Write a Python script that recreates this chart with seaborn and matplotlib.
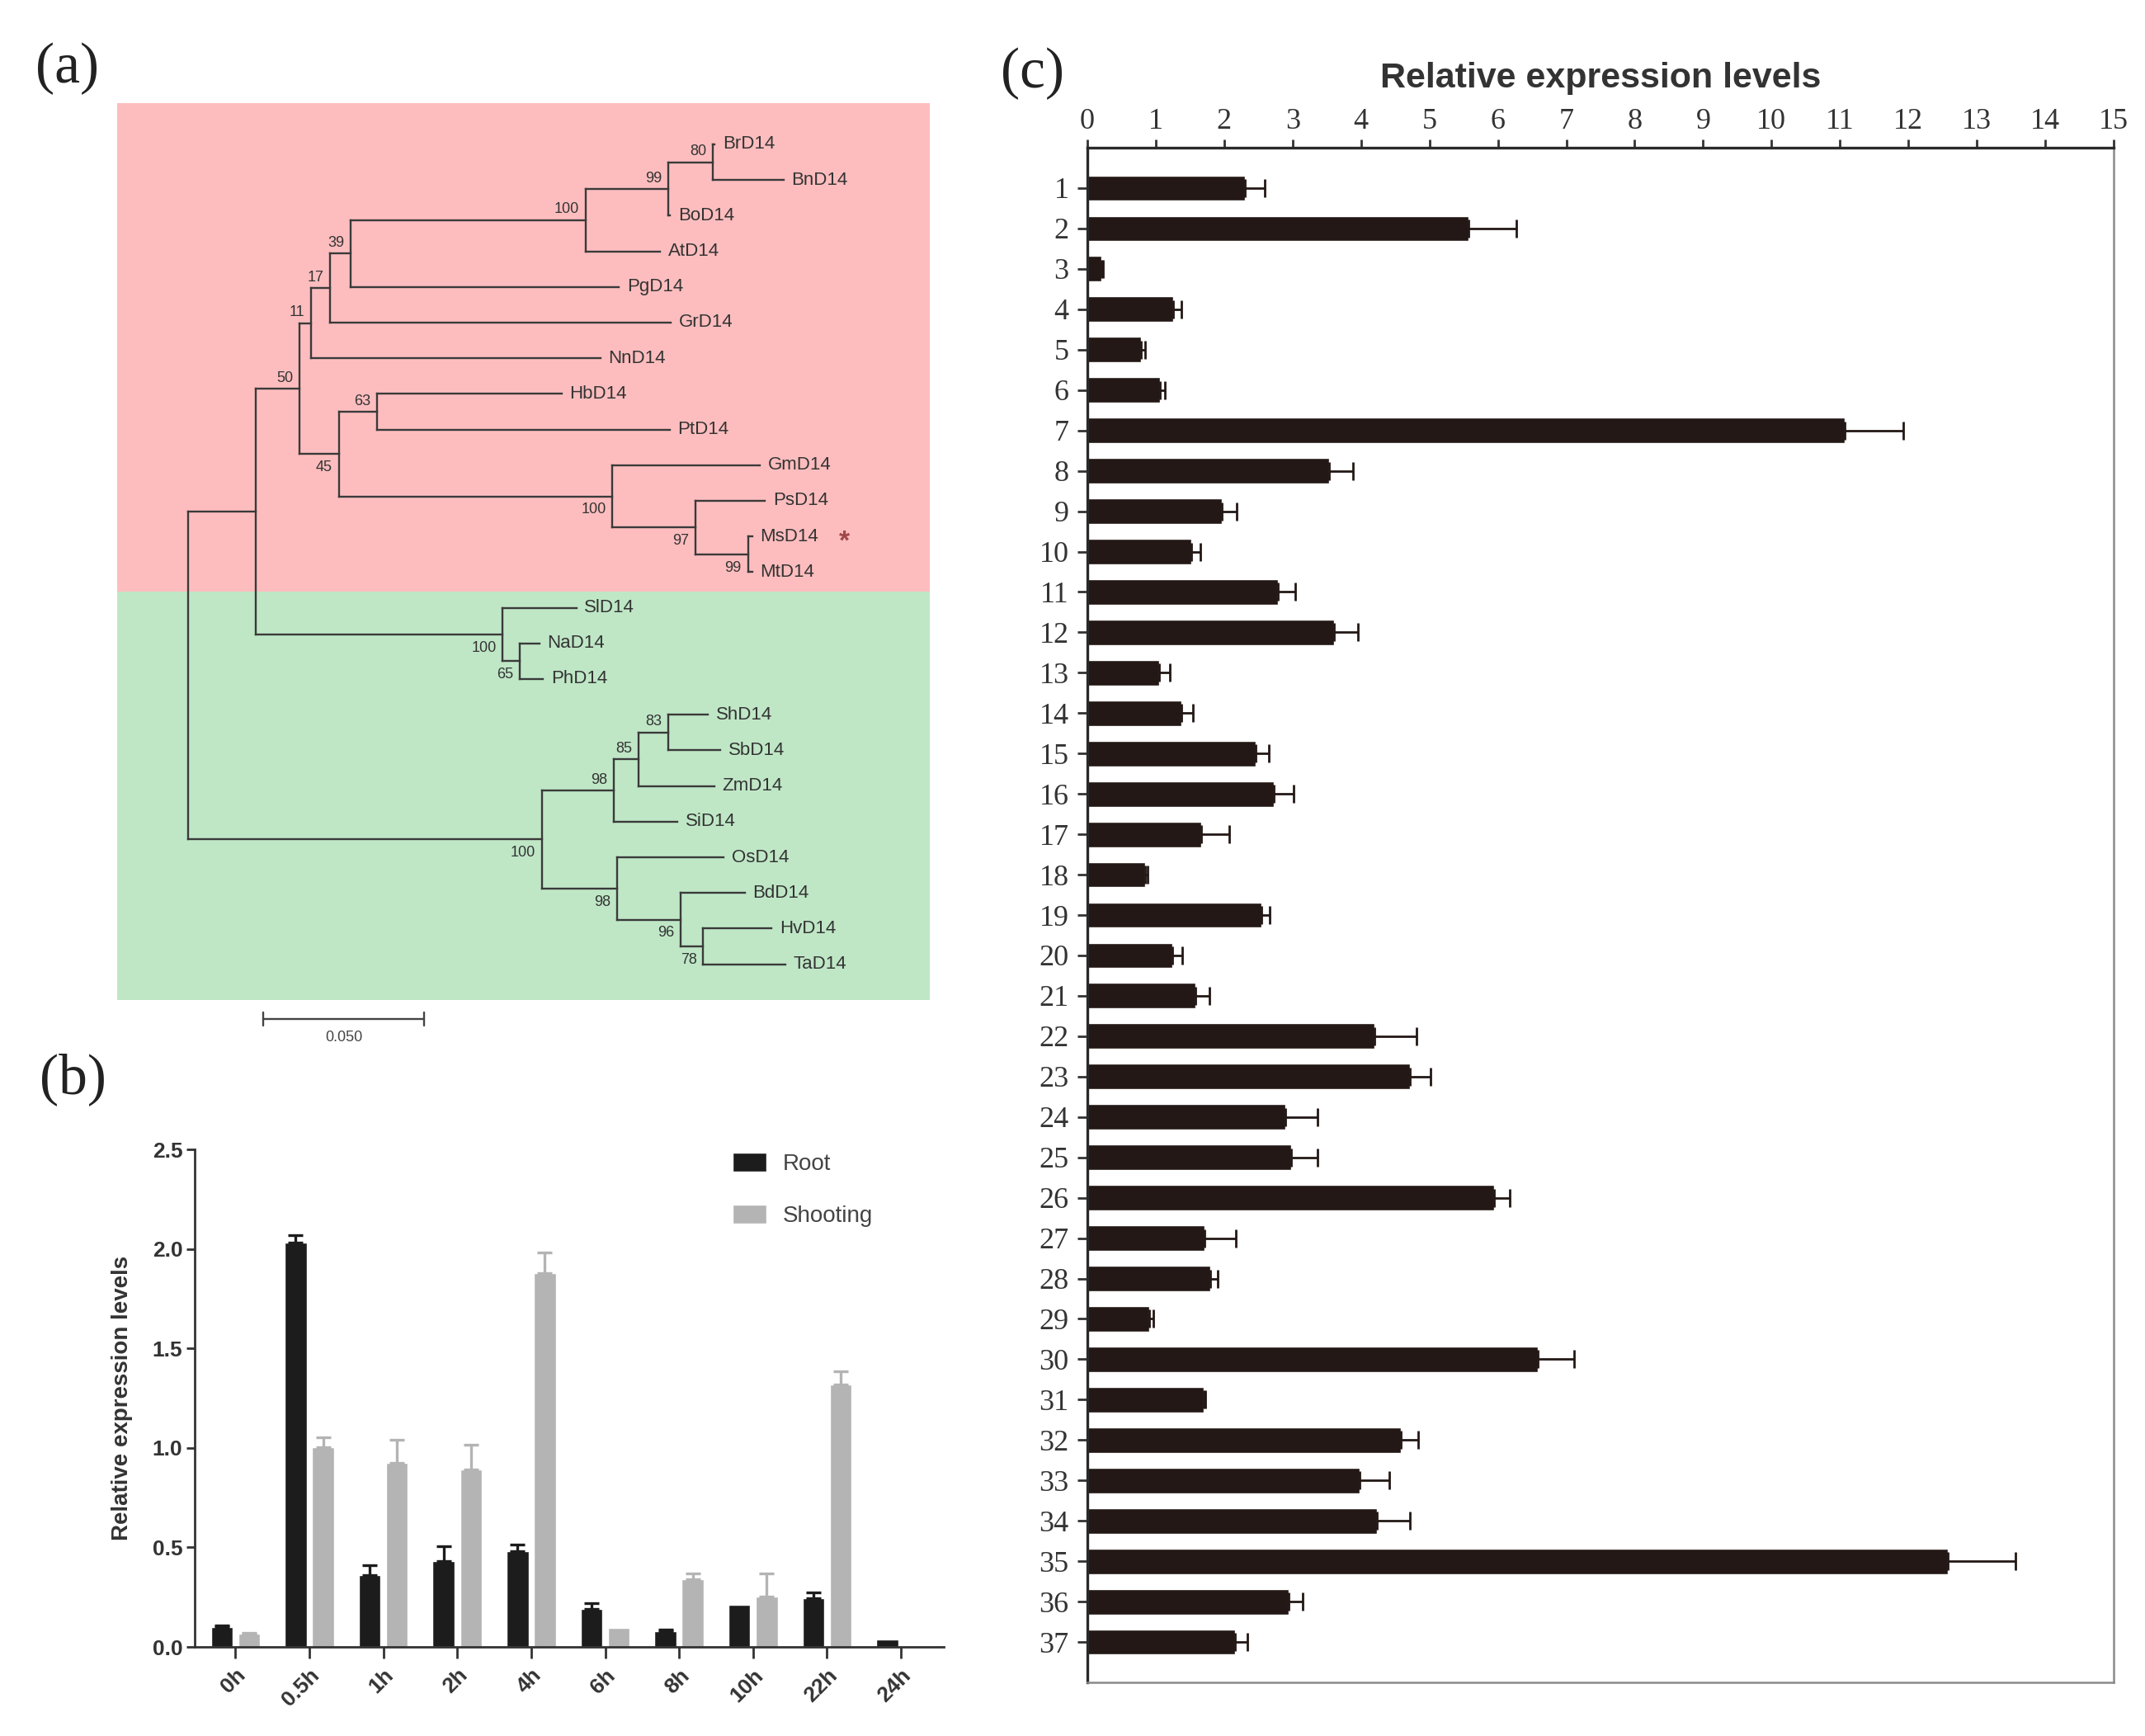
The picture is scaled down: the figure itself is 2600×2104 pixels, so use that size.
import numpy as np
import pandas as pd
import seaborn as sns
from matplotlib import pyplot as plt

sns.set_theme(style='ticks')
plt.rcParams['font.family'] = ['Liberation Sans', 'DejaVu Sans']

# ---------------- (a) 系统发育树数据 ----------------
leaf_names = ['BrD14', 'BnD14', 'BoD14', 'AtD14', 'PgD14', 'GrD14', 'NnD14', 'HbD14',
              'PtD14', 'GmD14', 'PsD14', 'MsD14', 'MtD14', 'SlD14', 'NaD14', 'PhD14',
              'ShD14', 'SbD14', 'ZmD14', 'SiD14', 'OsD14', 'BdD14', 'HvD14', 'TaD14']
leaf_depth = [0.1636, 0.185, 0.1497, 0.1467, 0.1338, 0.150, 0.128, 0.116,
              0.1496, 0.1777, 0.1792, 0.1752, 0.1752, 0.1206, 0.1091, 0.1102,
              0.1614, 0.1654, 0.1634, 0.152, 0.1664, 0.1729, 0.1812, 0.1855]

node_names = ['n80', 'n99a', 'n100a', 'n39', 'n17', 'n11', 'n63', 'n99b', 'n97', 'n100b',
              'n45', 'n50', 'n65', 'n100s', 'nEud', 'n83', 'n85', 'n98a', 'n78', 'n96',
              'n98b', 'n100m', 'root']
node_kids = [('BrD14', 'BnD14'), ('n80', 'BoD14'), ('n99a', 'AtD14'), ('n100a', 'PgD14'),
             ('n39', 'GrD14'), ('n17', 'NnD14'), ('HbD14', 'PtD14'), ('MsD14', 'MtD14'),
             ('PsD14', 'n99b'), ('GmD14', 'n97'), ('n63', 'n100b'), ('n11', 'n45'),
             ('NaD14', 'PhD14'), ('SlD14', 'n65'), ('n50', 'n100s'), ('ShD14', 'SbD14'),
             ('n83', 'ZmD14'), ('n85', 'SiD14'), ('HvD14', 'TaD14'), ('BdD14', 'n78'),
             ('OsD14', 'n96'), ('n98a', 'n98b'), ('nEud', 'n100m')]
node_depth = [0.163, 0.1492, 0.1234, 0.0504, 0.0441, 0.0382, 0.0585, 0.1739, 0.1575, 0.1318,
              0.0467, 0.0346, 0.1029, 0.0977, 0.021, 0.1492, 0.140, 0.1322, 0.160, 0.153,
              0.1332, 0.1098, 0.0]
node_support = [80, 99, 100, 39, 17, 11, 63, 99, 97, 100,
                45, 50, 65, 100, None, 83, 85, 98, 78, 96,
                98, 100, None]
node_side = ['above', 'above', 'above', 'above', 'above', 'above', 'above', 'below', 'below', 'below',
             'below', 'above', 'below', 'below', None, 'above', 'above', 'above', 'below', 'below',
             'below', 'below', None]
scale_bar_len = 0.05

# ---------------- (b) 不同时间点表达量 ----------------
times = ['0h', '0.5h', '1h', '2h', '4h', '6h', '8h', '10h', '22h', '24h']
root_mean = [0.10, 2.03, 0.36, 0.43, 0.48, 0.19, 0.08, 0.21, 0.243, 0.039]
root_sd = [0.008, 0.04, 0.05, 0.075, 0.036, 0.03, 0.009, 0.0, 0.03, 0.0]
shoot_mean = [0.068, 1.005, 0.925, 0.89, 1.88, 0.095, 0.34, 0.255, 1.32, 0.005]
shoot_sd = [0.004, 0.05, 0.115, 0.126, 0.10, 0.0, 0.03, 0.113, 0.066, 0.0]

# ---------------- (c) 37个样本表达量 ----------------
samples = [str(i) for i in range(1, 38)]
sample_mean = [2.30, 5.57, 0.20, 1.25, 0.79, 1.06, 11.07, 3.53, 1.96, 1.52,
               2.78, 3.60, 1.05, 1.38, 2.46, 2.73, 1.66, 0.84, 2.54, 1.24,
               1.58, 4.20, 4.71, 2.89, 2.98, 5.95, 1.71, 1.80, 0.91, 6.58,
               1.70, 4.58, 3.98, 4.23, 12.58, 2.94, 2.16]
sample_sd = [0.29, 0.70, 0.03, 0.12, 0.05, 0.07, 0.85, 0.35, 0.22, 0.13,
             0.26, 0.35, 0.16, 0.17, 0.19, 0.28, 0.42, 0.04, 0.12, 0.15,
             0.21, 0.61, 0.31, 0.47, 0.39, 0.22, 0.46, 0.10, 0.06, 0.53,
             0.02, 0.25, 0.43, 0.48, 0.99, 0.21, 0.18]

fig = plt.figure(figsize=(26, 21.04), dpi=100)
serif = ['Liberation Serif', 'DejaVu Serif']
narrow = ['Liberation Sans Narrow', 'Liberation Sans', 'DejaVu Sans']

# ======== (a) ========
axa = fig.add_axes([0.0546, 0.3916, 0.3788, 0.549])
axa.axhspan(-1.157, 12.55, color='#fdbdbe', lw=0)
axa.axhspan(12.55, 24.0, color='#bfe7c6', lw=0)

pos_x = dict(zip(leaf_names, leaf_depth))
pos_y = {n: i for i, n in enumerate(leaf_names)}
for n, d in zip(node_names, node_depth):
    pos_x[n] = d
for n, kids in zip(node_names, node_kids):
    pos_y[n] = np.mean([pos_y[k] for k in kids])

line_kw = dict(color='#3a3a3a', lw=1.7, solid_capstyle='projecting')
for n, kids, sup, side in zip(node_names, node_kids, node_support, node_side):
    x0, y0 = pos_x[n], pos_y[n]
    ys = [pos_y[k] for k in kids]
    axa.plot([x0, x0], [min(ys), max(ys)], **line_kw)
    for k in kids:
        axa.plot([x0, pos_x[k]], [pos_y[k], pos_y[k]], **line_kw)
    if sup is not None:
        if side == 'above':
            axa.text(x0 - 0.002, y0 - 0.1, str(sup), ha='right', va='bottom',
                     fontsize=13, color='#333333', family=narrow)
        else:
            axa.text(x0 - 0.002, y0 + 0.18, str(sup), ha='right', va='top',
                     fontsize=13, color='#333333', family=narrow)

for n in leaf_names:
    axa.text(pos_x[n] + 0.0025, pos_y[n], n, ha='left', va='center',
             fontsize=16, color='#333333', family=narrow)
axa.text(0.2038, pos_y['MsD14'] + 0.15, '*', ha='center', va='center',
         fontsize=24, color='#a04848', fontweight='bold')

# 标尺
sb0 = 0.0233
axa.plot([sb0, sb0 + scale_bar_len], [24.54, 24.54], color='#444444', lw=1.7)
axa.plot([sb0, sb0], [24.35, 24.73], color='#444444', lw=1.7)
axa.plot([sb0 + scale_bar_len, sb0 + scale_bar_len], [24.35, 24.73], color='#444444', lw=1.7)
axa.text(sb0 + scale_bar_len / 2, 24.85, '0.050', ha='center', va='top',
         fontsize=13, color='#444444', family=narrow)

axa.set_xlim(-0.02218, 0.2304)
axa.set_ylim(25.58, -1.157)
axa.axis('off')

# ======== (b) ========
axb = fig.add_axes([0.0908, 0.0513, 0.3492, 0.2866])
df_b = pd.DataFrame({
    'time': times * 2,
    'level': root_mean + shoot_mean,
    'tissue': ['Root'] * len(times) + ['Shooting'] * len(times),
})
b_colors = ['#1c1c1c', '#b4b4b4']
sns.barplot(data=df_b, x='time', y='level', hue='tissue', palette=b_colors,
            width=0.74, gap=0.2, saturation=1, errorbar=None, ax=axb)
for cont, sd, col in zip(axb.containers, [root_sd, shoot_sd], b_colors):
    for p, e in zip(cont.patches, sd):
        if e <= 0:
            continue
        xc = p.get_x() + p.get_width() / 2
        axb.errorbar(xc, p.get_height(), yerr=[[0], [e]], fmt='none', ecolor=col,
                     elinewidth=2.4, capsize=6.5, capthick=2.4)

axb.set_xlim(-0.55, 9.58)
axb.set_ylim(0, 2.5)
axb.set_yticks([0, 0.5, 1.0, 1.5, 2.0, 2.5])
axb.set_yticklabels(['0.0', '0.5', '1.0', '1.5', '2.0', '2.5'])
axb.set_xlabel('')
axb.set_ylabel('Relative expression levels', fontsize=20, fontweight='bold', color='#333333')
axb.yaxis.set_label_coords(-0.083, 0.5)
sns.despine(ax=axb)
for s in ['left', 'bottom']:
    axb.spines[s].set_color('#333333')
    axb.spines[s].set_linewidth(2)
axb.tick_params(axis='both', colors='#333333', width=2, length=7, labelsize=19)
axb.tick_params(axis='x', length=10, pad=6)
for t in axb.get_yticklabels():
    t.set_fontweight('bold')
for t in axb.get_xticklabels():
    t.set_fontweight('bold')
    t.set_rotation(45)
    t.set_ha('right')
    t.set_rotation_mode('anchor')
sns.move_legend(axb, loc='upper left', bbox_to_anchor=(0.69, 1.035), frameon=False, title=None,
                fontsize=20, handlelength=1.5, handleheight=0.9, labelspacing=1.3,
                handletextpad=0.7, labelcolor='#444444')

# ======== (c) ========
axc = fig.add_axes([0.5069, 0.0309, 0.4785, 0.884])
df_c = pd.DataFrame({'sample': samples, 'level': sample_mean})
c_color = '#231815'
sns.barplot(data=df_c, x='level', y='sample', orient='h', color=c_color,
            width=0.63, saturation=1, errorbar=None, ax=axc)
for p, e in zip(axc.patches, sample_sd):
    yc = p.get_y() + p.get_height() / 2
    axc.errorbar(p.get_width(), yc, xerr=[[0], [e]], fmt='none', ecolor=c_color,
                 elinewidth=2.0, capsize=8, capthick=2.0)

axc.set_xlim(0, 15)
axc.set_ylim(37, -1)
axc.set_xticks(range(16))
axc.set_xlabel('')
axc.set_ylabel('')
axc.xaxis.tick_top()
axc.tick_params(axis='x', colors='#333333', width=2, length=7, pad=4)
axc.tick_params(axis='y', colors='#333333', width=2, length=9, pad=7)
for t in axc.get_xticklabels() + axc.get_yticklabels():
    t.set_family(serif)
    t.set_fontsize(26)
for s in ['left', 'top']:
    axc.spines[s].set_color('#2a2a2a')
    axc.spines[s].set_linewidth(2.4)
for s in ['right', 'bottom']:
    axc.spines[s].set_color('#8a8a8a')
    axc.spines[s].set_linewidth(1.8)
axc.text(0.5, 1.0452, 'Relative expression levels', transform=axc.transAxes,
         ha='center', va='center', fontsize=31, fontweight='bold', color='#333333')

# 面板标签
fig.text(82 / 2600, 1 - 83 / 2104, '(a)', ha='center', va='center', fontsize=50, family=serif, color='#222222')
fig.text(88 / 2600, 1 - 1308 / 2104, '(b)', ha='center', va='center', fontsize=50, family=serif, color='#222222')
fig.text(1252 / 2600, 1 - 89 / 2104, '(c)', ha='center', va='center', fontsize=50, family=serif, color='#222222')

plt.savefig('out.png', dpi=100, facecolor='white')
